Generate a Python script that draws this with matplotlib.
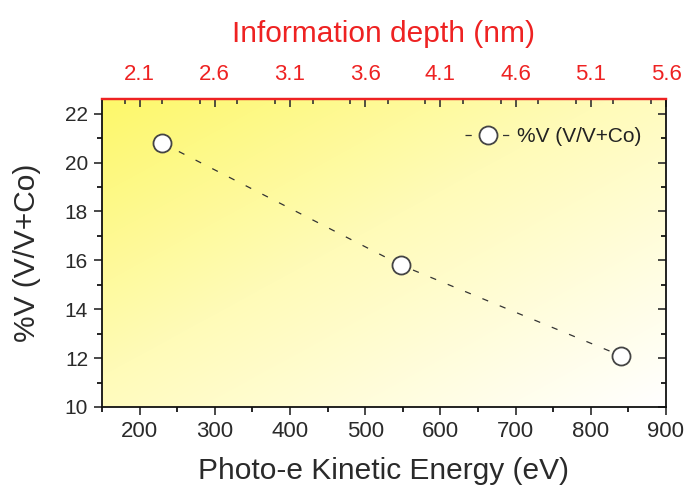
import numpy as np
import matplotlib
matplotlib.use("Agg")
import matplotlib.pyplot as plt
from matplotlib.colors import LinearSegmentedColormap
from matplotlib.ticker import MultipleLocator, FixedLocator

plt.rcParams['font.family'] = ['Liberation Sans', 'DejaVu Sans']

# Measured data
kinetic_energy = [230, 548, 840]          # eV
v_fraction = [20.8, 15.8, 12.1]           # %V (V/V+Co)
series_label = "%V (V/V+Co)"

# Top axis: information depth ticks aligned with kinetic energy ticks
depth_ticks = [2.1, 2.6, 3.1, 3.6, 4.1, 4.6, 5.1, 5.6]

fig = plt.figure(figsize=(6.86, 4.88), dpi=100)
ax = fig.add_axes([102/686, 1 - 407/488, (666-102)/686, (407-99)/488])

xmin, xmax = 150, 900
ymin, ymax = 10, 22.6

# Diagonal yellow-to-white gradient background
n = 300
u = np.linspace(0, 1, n)
U, V = np.meshgrid(u, u)          # V=0 bottom, V=1 top
t = (U + (1 - V)) / 2
cmap = LinearSegmentedColormap.from_list(
    "bg", [(0.0, "#fdf86a"), (0.45, "#fffbb8"), (1.0, "#ffffff")])
ax.imshow(t, cmap=cmap, origin="lower", extent=[xmin, xmax, ymin, ymax],
          aspect="auto", zorder=0, interpolation="bilinear")

ax.plot(kinetic_energy, v_fraction, linestyle=(0, (5, 10)), color="#333333",
        linewidth=0.9, marker="o", markersize=13, markerfacecolor="white",
        markeredgecolor="#444444", markeredgewidth=1.3, label=series_label,
        zorder=3)

ax.set_xlim(xmin, xmax)
ax.set_ylim(ymin, ymax)
ax.xaxis.set_major_locator(MultipleLocator(100))
ax.xaxis.set_minor_locator(MultipleLocator(50))
ax.yaxis.set_major_locator(MultipleLocator(2))
ax.yaxis.set_minor_locator(MultipleLocator(1))

ax.tick_params(axis="both", which="major", direction="out", length=6,
               width=1.2, colors="#2a2a2a", pad=4)
ax.tick_params(axis="x", which="major", labelsize=16)
ax.tick_params(axis="y", which="major", labelsize=15)
ax.tick_params(axis="both", which="minor", direction="out", length=3.5,
               width=1.2)
ax.tick_params(axis="y", which="both", right=True, labelright=False)
for tk in ax.yaxis.get_major_ticks() + ax.yaxis.get_minor_ticks():
    tk.tick2line.set_marker(matplotlib.lines.TICKLEFT)

for side in ["left", "bottom", "right"]:
    ax.spines[side].set_color("#111111")
    ax.spines[side].set_linewidth(1.3)
ax.spines["top"].set_color("#ee2222")
ax.spines["top"].set_linewidth(1.6)

ax.set_xlabel("Photo-e Kinetic Energy (eV)", fontsize=21.5, color="#2a2a2a",
              labelpad=11)
ax.set_ylabel(series_label, fontsize=21.5, color="#2a2a2a", labelpad=17)

# Top axis showing information depth
energy_to_depth = lambda e: 2.1 + (np.asarray(e) - 200) * 0.005
depth_to_energy = lambda d: 200 + (np.asarray(d) - 2.1) / 0.005
top = ax.secondary_xaxis("top", functions=(energy_to_depth, depth_to_energy))
top.xaxis.set_major_locator(FixedLocator(depth_ticks))
top.xaxis.set_minor_locator(MultipleLocator(0.25))
top.xaxis.set_major_formatter(matplotlib.ticker.FormatStrFormatter("%.1f"))
top.tick_params(axis="x", which="major", direction="in", length=6, width=1.2,
                labelsize=16, labelcolor="#ee2222", color="#333333", pad=10)
top.tick_params(axis="x", which="minor", direction="in", length=3.5,
                width=1.2, color="#333333")
top.spines["top"].set_color("#ee2222")
top.spines["top"].set_linewidth(1.6)
top.set_xlabel("Information depth (nm)", fontsize=21.5, color="#ee2222",
               labelpad=16)

leg = ax.legend(loc="upper right", frameon=False, fontsize=15,
                handlelength=2.2, handletextpad=0.3,
                bbox_to_anchor=(0.99, 0.97))
for txt in leg.get_texts():
    txt.set_color("#222222")

fig.savefig("out.png", dpi=100)
